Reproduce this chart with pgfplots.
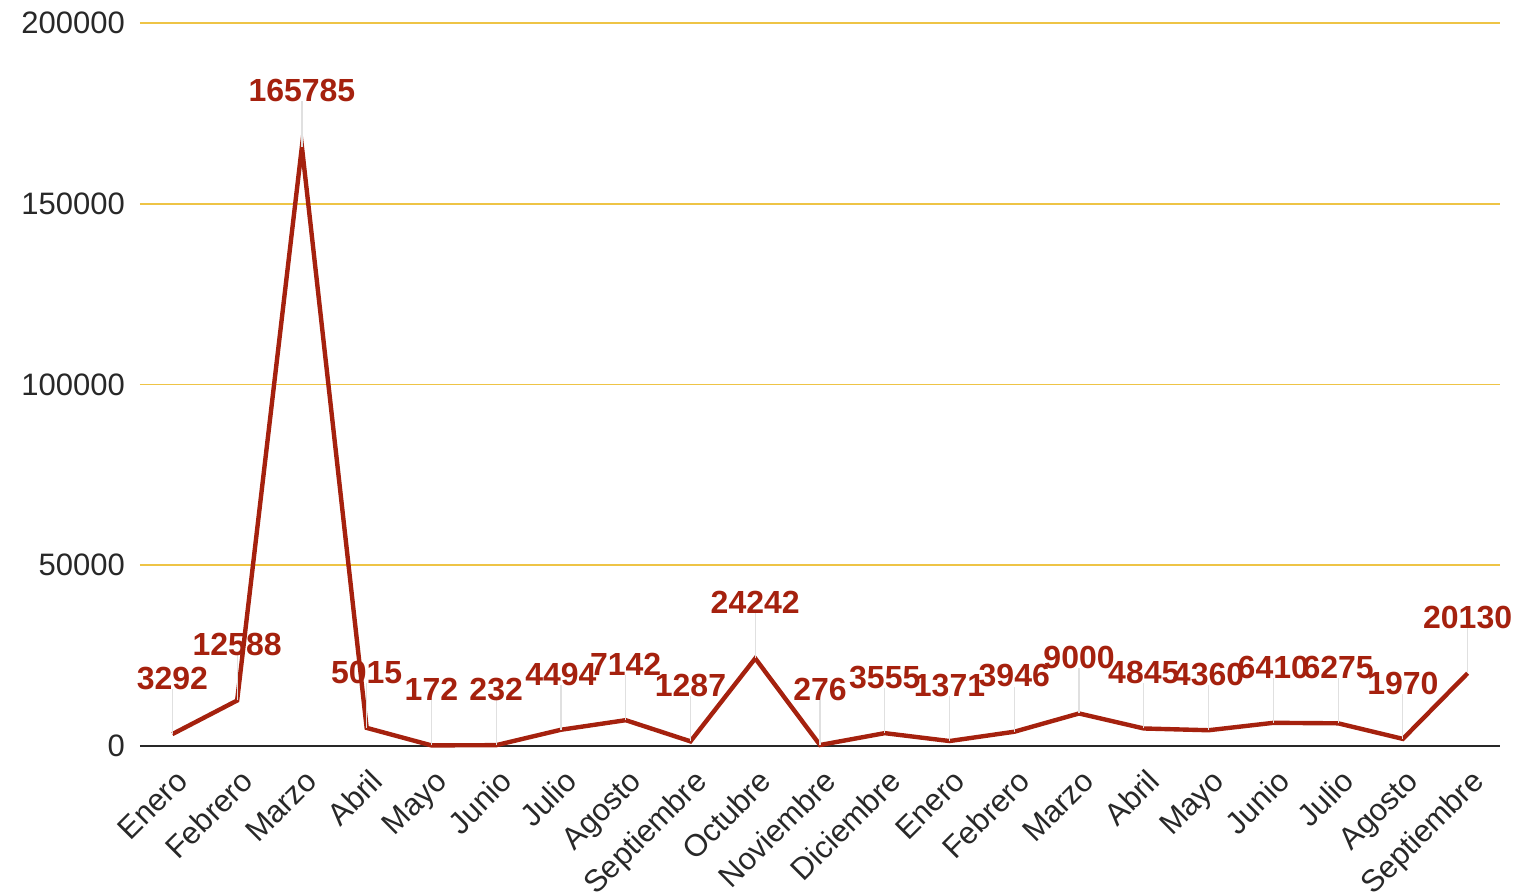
\documentclass[border=0pt]{standalone}
\usepackage{pgfplots}
\pgfplotsset{compat=1.18}
\usepackage{fontspec}
\setmainfont{Liberation Sans}
\definecolor{lred}{RGB}{165,33,14}
\definecolor{gold}{RGB}{238,196,70}
\definecolor{zl}{RGB}{40,40,40}
\begin{document}
\begin{tikzpicture}
\begin{axis}[
  scale only axis, width=680pt, height=361.5pt,
  xmin=-0.5, xmax=20.5, ymin=0, ymax=200000,
  axis line style={draw=none},
  xtick={0,...,20},
  xticklabels={Enero,Febrero,Marzo,Abril,Mayo,Junio,Julio,Agosto,Septiembre,Octubre,Noviembre,Diciembre,Enero,Febrero,Marzo,Abril,Mayo,Junio,Julio,Agosto,Septiembre},
  x tick label style={rotate=45, anchor=north east, font=\fontsize{15.5}{18}\selectfont, text=zl, inner sep=1pt, xshift=-5.8pt, yshift=-7.2pt},
  ytick={50000,100000,150000,200000},
  extra y ticks={0},
  extra y tick style={grid style={zl, line width=1.1pt}},
  ymajorgrids, grid style={gold, line width=0.9pt},
  major tick length=0pt,
  scaled y ticks=false,
  y tick label style={font=\fontsize{15.5}{18}\selectfont, text=zl, xshift=-4pt},
  yticklabel={\pgfmathprintnumber[fixed,precision=0,1000 sep={},assume math mode=true]{\tick}},
  clip=false,
]
\addplot[lred, line width=2.2pt,
  error bars/.cd, y dir=plus, y fixed=12500,
  error bar style={black!12, line width=0.6pt}, error mark=none]
  coordinates {(0,3292)(1,12588)(2,165785)(3,5015)(4,172)(5,232)(6,4494)(7,7142)(8,1287)(9,24242)(10,276)(11,3555)(12,1371)(13,3946)(14,9000)(15,4845)(16,4360)(17,6410)(18,6275)(19,1970)(20,20130)};
\addplot[draw=none, mark=none,
  nodes near coords={\pgfmathprintnumber[fixed,precision=0,1000 sep={},assume math mode=true]{\pgfplotspointmeta}},
  every node near coord/.append style={font=\fontsize{16}{19}\selectfont\bfseries, text=lred, anchor=south, yshift=22pt, inner sep=0pt}]
  coordinates {(0,3292)(1,12588)(2,165785)(3,5015)(4,172)(5,232)(6,4494)(7,7142)(8,1287)(9,24242)(10,276)(11,3555)(12,1371)(13,3946)(14,9000)(15,4845)(16,4360)(17,6410)(18,6275)(19,1970)(20,20130)};
\coordinate (sw) at (rel axis cs:0,0);
\coordinate (ne) at (rel axis cs:1,1);
\end{axis}
\pgfresetboundingbox
\path ([shift={(-70pt,-74pt)}]sw) rectangle ([shift={(18.5pt,11.5pt)}]ne);
\end{tikzpicture}
\end{document}
